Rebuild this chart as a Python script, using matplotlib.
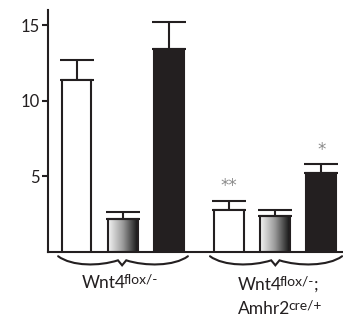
import numpy as np
import matplotlib
matplotlib.use("Agg")
import matplotlib.pyplot as plt
from matplotlib.path import Path
from matplotlib.patches import PathPatch
from matplotlib.colors import LinearSegmentedColormap

plt.rcParams['font.family'] = ['Lato', 'DejaVu Sans']

# ---- data ----
positions = [0, 1, 2, 3.32, 4.32, 5.32]
values = [11.4, 2.2, 13.4, 2.8, 2.4, 5.25]
errors = [1.3, 0.45, 1.8, 0.6, 0.4, 0.55]
fills = ['white', 'gradient', 'black', 'white', 'gradient', 'black']
stars = {3: '**', 5: '*'}
yticks = [5, 10, 15]
group1_label = [('Wnt4', 'flox/-', '')]
group2_label = [('Wnt4', 'flox/-', ';'), ('Amhr2', 'cre/+', '')]

ink = '#231f20'
W, H = 343, 320
fig = plt.figure(figsize=(W/100, H/100), dpi=100)
ax = fig.add_axes([48/W, 1-252/H, 1-48/W, 242/H])

width = 0.65
cmap = LinearSegmentedColormap.from_list('g', ['#f4f4f4', '#9a9a9a', '#141414'])
grad = np.linspace(0, 1, 256).reshape(1, -1)
for i, (x, v, e, f) in enumerate(zip(positions, values, errors, fills)):
    fc = {'white': 'white', 'black': ink, 'gradient': 'none'}[f]
    bars = ax.bar(x, v, width=width, color=fc, edgecolor=ink, linewidth=1.5, zorder=3)
    if f == 'gradient':
        im = ax.imshow(grad, cmap=cmap, aspect='auto',
                       extent=[x - width/2, x + width/2, 0, v], zorder=2)
        im.set_clip_path(bars[0])
    ax.errorbar(x, v, yerr=[[0], [e]], fmt='none', ecolor=ink, elinewidth=1.5,
                capsize=12.5, capthick=1.5, zorder=2)
    if i in stars:
        ax.text(x, v + e + 0.35, stars[i], ha='center', va='bottom', fontsize=12,
                color='#8a8a8a', family='DejaVu Sans')

ax.set_xlim(-0.62, 5.79)
ax.set_ylim(0, 16)
ax.set_yticks(yticks)
ax.set_yticklabels([str(t) for t in yticks])
ax.set_xticks([])
for s in ['top', 'right']:
    ax.spines[s].set_visible(False)
for s in ['left', 'bottom']:
    ax.spines[s].set_linewidth(1.5)
    ax.spines[s].set_color(ink)
ax.tick_params(axis='y', direction='out', length=4, width=1.5, color=ink,
               labelsize=12, labelcolor=ink, pad=2)

def brace(x0, x1, xc):
    yt, yb, ym, ytip = -0.28, -0.95, -0.55, -0.88
    verts = [(x0, yt), (x0 + 0.3, yb), (xc - 0.5, yb), (xc - 0.09, ym),
             (xc, ytip), (xc + 0.09, ym),
             (xc + 0.5, yb), (x1 - 0.3, yb), (x1, yt)]
    codes = [Path.MOVETO, Path.CURVE4, Path.CURVE4, Path.CURVE4,
             Path.LINETO, Path.LINETO,
             Path.CURVE4, Path.CURVE4, Path.CURVE4]
    p = PathPatch(Path(verts, codes), facecolor='none', edgecolor=ink, lw=1.5,
                  clip_on=False, capstyle='round', joinstyle='miter')
    ax.add_patch(p)

brace(-0.40, 2.42, 0.99)
brace(2.90, 5.77, 4.32)

renderer = fig.canvas.get_renderer()
def sup_text(cx, cy, base, sup, tail, fs=12.5, sfs=10):
    kw = dict(color=ink, transform=None, va='baseline', ha='left')
    t1 = fig.text(0, 0, base, fontsize=fs, **kw)
    t2 = fig.text(0, 0, sup, fontsize=sfs, **kw)
    t3 = fig.text(0, 0, tail, fontsize=fs, **kw)
    w1 = t1.get_window_extent(renderer).width
    w2 = t2.get_window_extent(renderer).width
    w3 = t3.get_window_extent(renderer).width if tail else 0
    gap = -1.5
    total = w1 + gap + w2 + w3
    x0 = cx - total/2
    yb = H - cy
    t1.set_position((x0, yb))
    t2.set_position((x0 + w1 + gap, yb + 5))
    t3.set_position((x0 + w1 + gap + w2 - 0.5, yb))

sup_text(120, 288, *group1_label[0])
sup_text(278, 290, *group2_label[0])
sup_text(280, 314, *group2_label[1])

fig.savefig('out.png', dpi=100)
